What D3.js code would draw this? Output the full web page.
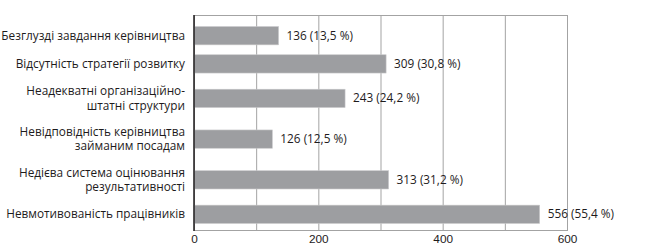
<!DOCTYPE html>
<html lang="uk">
<head>
    <meta charset="UTF-8">
    <title>Horizontal bar chart</title>
    <script src="https://d3js.org/d3.v7.min.js"></script>
    <style>
        body { margin: 0; background: #fff; }
        svg { display: block; font-family: "Open Sans", sans-serif; font-size: 11.8px; fill: #1e1b1c; }
        .xAxis text { font-size: 11.8px; fill: #1e1b1c; }
    </style>
</head>
<body>
<svg width="650" height="251"></svg>
<script>
    // chart data
    let categories = [
        ["Безглузді завдання керівництва"],
        ["Відсутність стратегії розвитку"],
        ["Неадекватні організаційно-", "штатні структури"],
        ["Невідповідність керівництва", "займаним посадам"],
        ["Недієва система оцінювання", "результативності"],
        ["Невмотивованість працівників"]
    ];
    let counts = [136, 309, 243, 126, 313, 556];
    let percents = ["13,5", "30,8", "24,2", "12,5", "31,2", "55,4"];
    let xTicks = [0, 200, 400, 600];
    let gridTicks = [0, 100, 200, 300, 400, 500, 600];

    let svg = d3.select('svg');
    let margins = {left: 194, right: 83, top: 15, bottom: 21};
    let W = 650, H = 251;

    // rows with two-line labels get more room
    let rows = categories.map(function (c, i) {
        return {lines: c, count: counts[i], pct: percents[i], w: c.length == 1 ? 2.25 : 3.25};
    });
    let acc = 0;
    rows.forEach(function (r) { r.start = acc; acc += r.w; r.mid = r.start + r.w / 2; });

    let xScale = d3.scaleLinear().domain([0, 600]).range([margins.left, W - margins.right]);
    let yScale = d3.scaleLinear().domain([0, acc]).range([21.6, 228.4]);
    let barH = 18.3;

    // grid
    svg.append('g').selectAll('line').data(gridTicks).enter().append('line')
        .attr('x1', function (d) { return xScale(d) + 0.5; })
        .attr('x2', function (d) { return xScale(d) + 0.5; })
        .attr('y1', margins.top)
        .attr('y2', H - margins.bottom)
        .attr('stroke', '#a3a3a3')
        .attr('stroke-width', 1);
    svg.append('line')
        .attr('x1', xScale(0)).attr('x2', xScale(600) + 1)
        .attr('y1', margins.top + 0.5).attr('y2', margins.top + 0.5)
        .attr('stroke', '#a3a3a3');

    // bars
    svg.append('g').selectAll('rect').data(rows).enter().append('rect')
        .attr('x', xScale(0))
        .attr('y', function (d) { return yScale(d.mid) - barH / 2; })
        .attr('width', function (d) { return xScale(d.count) - xScale(0); })
        .attr('height', barH)
        .attr('fill', '#9d9ea1')
        .attr('stroke', '#c9c9cb')
        .attr('stroke-width', 0.6);

    // value labels
    svg.append('g').selectAll('text').data(rows).enter().append('text')
        .attr('x', function (d) { return xScale(d.count) + 8; })
        .attr('y', function (d) { return yScale(d.mid); })
        .attr('dy', '0.35em')
        .text(function (d) { return d.count + ' (' + d.pct + ' %)'; });

    // category labels
    let labels = svg.append('g').selectAll('text').data(rows).enter().append('text')
        .attr('text-anchor', 'end')
        .attr('y', function (d) { return yScale(d.mid); });
    labels.selectAll('tspan').data(function (d) {
        return d.lines.map(function (t, j) { return {t: t, off: (j - (d.lines.length - 1) / 2) * 14.3}; });
    }).enter().append('tspan')
        .attr('x', 185)
        .attr('dy', function (d, j) { return j == 0 ? (d.off + 4) : 14.3; })
        .text(function (d) { return d.t; });

    // x axis
    let x_axis = svg.append('g')
        .attr('class', 'xAxis')
        .attr('transform', 'translate(0,' + (H - margins.bottom) + ')')
        .call(d3.axisBottom(xScale).tickValues(xTicks).tickSize(0).tickPadding(5));
    x_axis.select('.domain').remove();
    svg.append('line')
        .attr('x1', xScale(0)).attr('x2', xScale(600) + 1)
        .attr('y1', H - margins.bottom + 0.5).attr('y2', H - margins.bottom + 0.5)
        .attr('stroke', '#a3a3a3');

    // y axis line
    svg.append('line')
        .attr('x1', xScale(0)).attr('x2', xScale(0))
        .attr('y1', margins.top).attr('y2', H - margins.bottom + 1)
        .attr('stroke', '#1e1b1c').attr('stroke-width', 1.5);
</script>
</body>
</html>
